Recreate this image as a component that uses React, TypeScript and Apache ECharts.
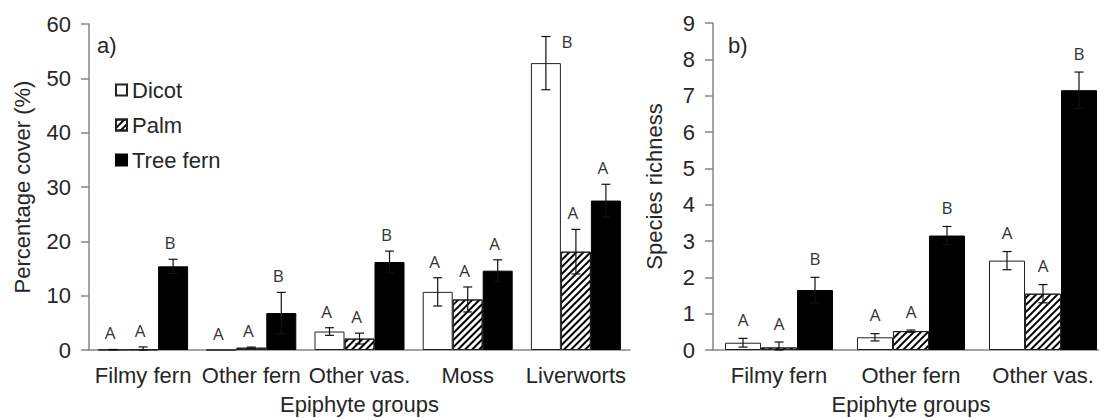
import React, { useEffect, useRef } from "react";
import * as echarts from "echarts";

const seriesNames = ["Dicot", "Palm", "Tree fern"];

const coverCategories = ["Filmy fern", "Other fern", "Other vas.", "Moss", "Liverworts"];
const coverDicot = [0.05, 0, 3.4, 10.7, 52.8];
const coverDicotErr = [0.05, 0, 0.7, 2.6, 4.9];
const coverPalm = [0.12, 0.42, 2.1, 9.3, 18.1];
const coverPalmErr = [0.45, 0.12, 1.0, 2.3, 4.1];
const coverTree = [15.4, 6.8, 16.2, 14.6, 27.5];
const coverTreeErr = [1.3, 3.8, 2.0, 2.0, 3.0];
const coverDicotSig = ["A", "A", "A", "A", "B"];
const coverPalmSig = ["A", "A", "A", "A", "A"];
const coverTreeSig = ["B", "B", "B", "A", "A"];
const coverTicks = [0, 10, 20, 30, 40, 50, 60];

const richCategories = ["Filmy fern", "Other fern", "Other vas."];
const richDicot = [0.2, 0.35, 2.46];
const richDicotErr = [0.12, 0.1, 0.25];
const richPalm = [0.07, 0.52, 1.55];
const richPalmErr = [0.15, 0.03, 0.25];
const richTree = [1.65, 3.15, 7.15];
const richTreeErr = [0.35, 0.25, 0.5];
const richDicotSig = ["A", "A", "A"];
const richPalmSig = ["A", "A", "A"];
const richTreeSig = ["B", "B", "B"];
const richTicks = [0, 1, 2, 3, 4, 5, 6, 7, 8, 9];

const FONT = "'Liberation Sans', Arial, sans-serif";
const TEXT = "#262626";
const AXIS = "#868686";

export default function App() {
  const ref = useRef<HTMLDivElement>(null);

  useEffect(() => {
    if (!ref.current) return;
    const chart = echarts.init(ref.current, null, { renderer: "svg" });

    const hatch = {
      symbol: "rect",
      symbolSize: 1,
      color: "#000",
      backgroundColor: "#fff",
      dashArrayX: [1, 0],
      dashArrayY: [1.2, 2.4],
      rotation: -Math.PI / 4,
    };

    const barStyles = [
      { color: "#fff", borderColor: "#222", borderWidth: 1 },
      { color: "#fff", borderColor: "#222", borderWidth: 1, decal: hatch },
      { color: "#000", borderColor: "#000", borderWidth: 1 },
    ];

    const makeBars = (vals: number[][], gridIdx: number, bw: number) =>
      vals.map((v, k) => ({
        name: seriesNames[k],
        type: "bar",
        xAxisIndex: gridIdx,
        yAxisIndex: gridIdx,
        data: v,
        barWidth: bw,
        barGap: "0%",
        itemStyle: barStyles[k],
        z: 2,
      }));

    const makeErr = (
      vals: number[][],
      errs: number[][],
      sigs: string[][],
      gridIdx: number,
      bw: number,
      lift: number,
      dxText: number,
      special: Record<string, number[]>
    ) => {
      const data: number[][] = [];
      const letters: string[] = [];
      vals.forEach((v, k) =>
        v.forEach((val, i) => {
          data.push([i, val, errs[k][i], k]);
          letters.push(sigs[k][i]);
        })
      );
      return {
        type: "custom",
        xAxisIndex: gridIdx,
        yAxisIndex: gridIdx,
        z: 5,
        silent: true,
        data,
        renderItem: (params: any, api: any) => {
          const cat = api.value(0);
          const val = api.value(1);
          const err = api.value(2);
          const k = api.value(3);
          const base = api.coord([cat, val]);
          const top = api.coord([cat, val + err]);
          const bot = api.coord([cat, Math.max(val - err, 0)]);
          const x = base[0] + (k - 1) * bw;
          const cap = 4.5;
          const ls = { stroke: "#111", lineWidth: 1.2 };
          const children: any[] = [];
          if (err > 0) {
            children.push(
              { type: "line", shape: { x1: x, y1: top[1], x2: x, y2: bot[1] }, style: ls },
              { type: "line", shape: { x1: x - cap, y1: top[1], x2: x + cap, y2: top[1] }, style: ls },
              { type: "line", shape: { x1: x - cap, y1: bot[1], x2: x + cap, y2: bot[1] }, style: ls }
            );
          }
          const key = cat + "-" + k;
          const sp = special[key] || [0, 0];
          children.push({
            type: "text",
            x: x + dxText + sp[0],
            y: top[1] - lift + sp[1],
            style: {
              text: letters[params.dataIndex],
              fontSize: 17,
              fontFamily: "'Open Sans', sans-serif",
              fill: "#333",
              align: "center",
              verticalAlign: "middle",
            },
          });
          return { type: "group", children };
        },
      };
    };

    const catAxis = (cats: string[], gridIdx: number) => ({
      type: "category",
      gridIndex: gridIdx,
      data: cats,
      name: "Epiphyte groups",
      nameLocation: "middle",
      nameGap: 43,
      nameTextStyle: { fontSize: 22, color: TEXT, fontFamily: FONT },
      axisLine: { lineStyle: { color: AXIS, width: 1.5 } },
      axisTick: { length: 6, lineStyle: { color: AXIS, width: 1.5 } },
      axisLabel: { fontSize: 22, color: TEXT, fontFamily: FONT, margin: 14, interval: 0 },
    });

    const valAxis = (gridIdx: number, max: number, interval: number, name: string, gap: number) => ({
      type: "value",
      gridIndex: gridIdx,
      min: 0,
      max,
      interval,
      name,
      nameLocation: "middle",
      nameGap: gap,
      nameTextStyle: { fontSize: 22, color: TEXT, fontFamily: FONT },
      splitLine: { show: false },
      axisLine: { show: true, lineStyle: { color: AXIS, width: 1.5 } },
      axisTick: { show: true, length: 8, lineStyle: { color: AXIS, width: 1.5 } },
      axisLabel: { fontSize: 22, color: TEXT, fontFamily: FONT, margin: 18 },
    });

    const coverVals = [coverDicot, coverPalm, coverTree];
    const coverErrs = [coverDicotErr, coverPalmErr, coverTreeErr];
    const coverSigs = [coverDicotSig, coverPalmSig, coverTreeSig];
    const richVals = [richDicot, richPalm, richTree];
    const richErrs = [richDicotErr, richPalmErr, richTreeErr];
    const richSigs = [richDicotSig, richPalmSig, richTreeSig];

    chart.setOption({
      animation: false,
      backgroundColor: "#fff",
      textStyle: { fontFamily: FONT },
      grid: [
        { left: 89, top: 24, width: 541, height: 326, containLabel: false, outerBoundsMode: "none" },
        { left: 713, top: 23, width: 396, height: 327, containLabel: false, outerBoundsMode: "none" },
      ],
      legend: {
        data: seriesNames,
        orient: "vertical",
        left: 110,
        top: 74,
        itemWidth: 11,
        itemHeight: 11,
        itemGap: 13,
        icon: "rect",
        textStyle: { fontSize: 22, color: TEXT, fontFamily: FONT },
        selectedMode: false,
      },
      xAxis: [catAxis(coverCategories, 0), catAxis(richCategories, 1)],
      yAxis: [
        valAxis(0, coverTicks[coverTicks.length - 1], coverTicks[1] - coverTicks[0], "Percentage cover (%)", 56),
        valAxis(1, richTicks[richTicks.length - 1], richTicks[1] - richTicks[0], "Species richness", 48),
      ],
      graphic: [
        { type: "text", left: 97, top: 34, style: { text: "a)", fontSize: 22, fill: TEXT, fontFamily: FONT } },
        { type: "text", left: 728, top: 34, style: { text: "b)", fontSize: 22, fill: TEXT, fontFamily: FONT } },
      ],
      series: [
        ...makeBars(coverVals, 0, 30),
        ...makeBars(richVals, 1, 36),
        makeErr(coverVals, coverErrs, coverSigs, 0, 30, 16.5, -3, { "4-0": [24, 22] }),
        makeErr(richVals, richErrs, richSigs, 1, 36, 19, 0, {}),
      ],
    });

    return () => chart.dispose();
  }, []);

  return (
    <div
      style={{
        position: "fixed",
        left: 0,
        top: 0,
        width: 1099,
        height: 418,
        overflow: "hidden",
        background: "#fff",
      }}
    >
      <div ref={ref} style={{ width: 1120, height: 418 }} />
    </div>
  );
}
